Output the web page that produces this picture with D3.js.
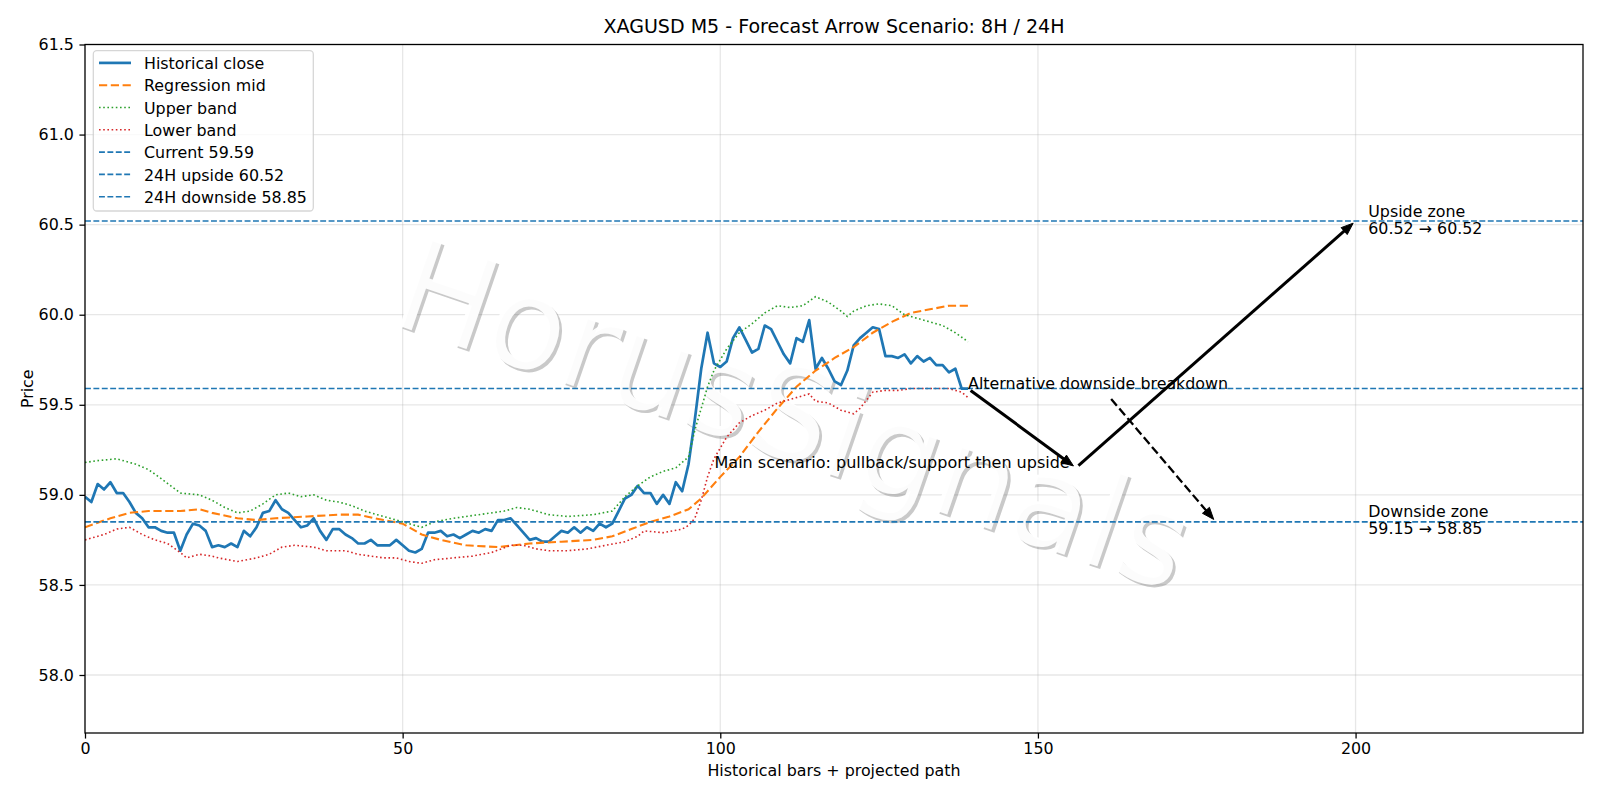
<!DOCTYPE html>
<html><head><meta charset="utf-8">
<script src="https://cdn.jsdelivr.net/npm/d3@7"></script>
<style>body{margin:0;background:#fff;} svg{display:block;font-family:"DejaVu Sans",sans-serif;}</style>
</head><body><svg id="c" width="1600" height="800"></svg>
<script>
// ---------- DATA ----------
const closeVals = [58.99,58.96,59.06,59.03,59.07,59.01,59.01,58.96,58.90,58.87,
58.82,58.82,58.80,58.79,58.79,58.69,58.78,58.84,58.83,58.80,
58.71,58.72,58.71,58.73,58.71,58.80,58.77,58.82,58.90,58.91,
58.97,58.92,58.90,58.86,58.82,58.83,58.87,58.80,58.75,58.81,
58.81,58.78,58.76,58.73,58.73,58.75,58.72,58.72,58.72,58.75,
58.72,58.69,58.68,58.70,58.79,58.79,58.80,58.77,58.78,58.76,
58.78,58.80,58.79,58.81,58.80,58.86,58.86,58.87,58.83,58.79,
58.75,58.76,58.74,58.74,58.77,58.80,58.79,58.82,58.79,58.82,
58.80,58.84,58.82,58.84,58.91,58.98,59.00,59.05,59.01,59.01,
58.95,59.00,58.95,59.07,59.02,59.17,59.42,59.70,59.90,59.73,
59.71,59.74,59.87,59.93,59.86,59.79,59.81,59.94,59.92,59.85,
59.78,59.73,59.87,59.85,59.97,59.70,59.76,59.70,59.63,59.61,
59.69,59.83,59.87,59.90,59.93,59.92,59.77,59.77,59.76,59.78,
59.73,59.77,59.74,59.76,59.72,59.72,59.68,59.70,59.59,59.59];

// regression mid, read at bar positions [bar, price]
const midPts = [[0,58.82],[4,58.87],[7,58.90],[10,58.91],[15,58.91],[18,58.92],[20,58.90],[24,58.87],[27,58.86],[30,58.87],[35,58.88],[40,58.89],[43,58.89],[47,58.86],[50,58.84],[53,58.78],[56,58.75],[60,58.72],[65,58.71],[70,58.73],[75,58.74],[80,58.75],[83,58.77],[86,58.81],[89,58.85],[92,58.88],[95,58.92],[97,58.98],[100,59.10],[103,59.21],[106,59.35],[109,59.48],[112,59.60],[115,59.69],[118,59.76],[121,59.82],[124,59.90],[127,59.96],[130,60.01],[133,60.03],[136,60.05],[139,60.05]];

const upperPts = [[0,59.18],[2,59.19],[5,59.20],[8,59.17],[10,59.14],[12,59.09],[15,59.01],[18,59.00],[20,58.97],[22,58.93],[24,58.90],[26,58.91],[28,58.95],[30,59.00],[32,59.01],[34,58.99],[36,59.00],[38,58.97],[40,58.96],[42,58.94],[44,58.91],[46,58.89],[48,58.87],[50,58.85],[53,58.82],[55,58.85],[58,58.87],[62,58.89],[66,58.91],[68,58.93],[70,58.92],[73,58.89],[76,58.88],[80,58.89],[83,58.91],[85,58.99],[87,59.05],[89,59.10],[91,59.13],[93,59.15],[95,59.21],[96,59.36],[97,59.48],[98,59.60],[99,59.69],[101,59.81],[103,59.90],[105,59.95],[107,60.01],[109,60.05],[111,60.04],[113,60.05],[115,60.10],[117,60.07],[119,60.02],[120,59.99],[121,60.02],[123,60.05],[125,60.06],[127,60.05],[129,60.00],[131,59.98],[133,59.96],[135,59.94],[137,59.90],[139,59.85]];

const lowerPts = [[0,58.75],[3,58.78],[5,58.81],[7,58.82],[9,58.78],[11,58.75],[13,58.73],[15,58.68],[16,58.65],[18,58.67],[20,58.66],[21,58.65],[24,58.63],[27,58.65],[29,58.67],[31,58.71],[33,58.72],[36,58.71],[38,58.69],[41,58.69],[43,58.67],[45,58.66],[47,58.65],[49,58.65],[51,58.63],[53,58.62],[55,58.64],[58,58.65],[61,58.66],[64,58.68],[67,58.72],[69,58.72],[71,58.70],[73,58.69],[76,58.69],[79,58.70],[82,58.72],[85,58.74],[87,58.77],[88,58.80],[91,58.79],[94,58.81],[95,58.83],[96,58.87],[97,58.97],[98,59.10],[99,59.20],[101,59.32],[103,59.40],[105,59.44],[107,59.47],[109,59.51],[111,59.53],[113,59.55],[114,59.56],[115,59.52],[117,59.51],[119,59.47],[121,59.45],[122,59.48],[124,59.57],[126,59.58],[128,59.58],[130,59.59],[132,59.59],[134,59.59],[136,59.59],[138,59.57],[139,59.54]];

const levelNames = ["Current 59.59","24H upside 60.52","24H downside 58.85"];
const levelVals = [59.59, 60.52, 58.85];

// arrows in data coords [bar, price]
const arrowFrom = [[139,59.59],[156,59.15],[161.2,59.546]];
const arrowTo   = [[156,59.15],[200,60.52],[178,58.85]];
const arrowDashed = [false,false,true];

const xTicks = [0,50,100,150,200];
const yTicks = [58.0,58.5,59.0,59.5,60.0,60.5,61.0,61.5];
const xDomain = [0,235.8];
const yDomain = [57.678,61.5];

const titleText = "XAGUSD M5 - Forecast Arrow Scenario: 8H / 24H";
const xLabel = "Historical bars + projected path";
const yLabel = "Price";
const legendLabels = ["Historical close","Regression mid","Upper band","Lower band"].concat(levelNames);
const watermark = "HorusSignals";
const mainText = "Main scenario: pullback/support then upside";
const altText = "Alternative downside breakdown";
const upZone = ["Upside zone","60.52 \u2192 60.52"];
const downZone = ["Downside zone","59.15 \u2192 58.85"];

// ---------- DRAW ----------
const W=1600,H=800, L=85, R=1583, T=44.5, B=733;
const FS=15.87;
const svg=d3.select("#c");
const x=d3.scaleLinear().domain(xDomain).range([L,R]);
const y=d3.scaleLinear().domain(yDomain).range([B,T]);
const BLUE="#1f77b4",ORANGE="#ff7f0e",GREEN="#2ca02c",RED="#d62728";

svg.append("rect").attr("width",W).attr("height",H).attr("fill","#fff");
svg.append("defs").append("clipPath").attr("id","clip").append("rect")
  .attr("x",L).attr("y",T).attr("width",R-L).attr("height",B-T);

// grid
const grid=svg.append("g");
grid.selectAll(".gx").data(xTicks).join("line")
  .attr("x1",d=>x(d)).attr("x2",d=>x(d)).attr("y1",T).attr("y2",B)
  .attr("stroke","#b0b0b0").attr("stroke-opacity",0.3).attr("stroke-width",1.27);
grid.selectAll(".gy").data(yTicks).join("line")
  .attr("y1",d=>y(d)).attr("y2",d=>y(d)).attr("x1",L).attr("x2",R)
  .attr("stroke","#b0b0b0").attr("stroke-opacity",0.3).attr("stroke-width",1.27);

// watermark
const wmAngle=19, wmX=388, wmY=322, wmSize=127, wmOff=2.8;
const wm=svg.append("g").attr("clip-path","url(#clip)");
wm.append("text").text(watermark)
  .attr("transform",`translate(${wmX+wmOff},${wmY+wmOff}) rotate(${wmAngle})`)
  .attr("font-size",wmSize).attr("fill","#4d4d4d").attr("fill-opacity",0.3);
wm.append("text").text(watermark)
  .attr("transform",`translate(${wmX},${wmY}) rotate(${wmAngle})`)
  .attr("font-size",wmSize).attr("fill","#ffffff").attr("fill-opacity",0.95);

const plot=svg.append("g").attr("clip-path","url(#clip)");
const lineIdx=d3.line().x((d,i)=>x(i)).y(d=>y(d));
const linePts=d3.line().x(d=>x(d[0])).y(d=>y(d[1]));

plot.append("path").attr("d",lineIdx(closeVals)).attr("fill","none")
  .attr("stroke",BLUE).attr("stroke-width",2.7).attr("stroke-linejoin","round").attr("stroke-linecap","butt");
plot.append("path").attr("d",linePts(midPts)).attr("fill","none")
  .attr("stroke",ORANGE).attr("stroke-width",2.1).attr("stroke-dasharray","8.2,3.6");
plot.append("path").attr("d",linePts(upperPts)).attr("fill","none")
  .attr("stroke",GREEN).attr("stroke-width",1.6).attr("stroke-dasharray","1.6,2.6");
plot.append("path").attr("d",linePts(lowerPts)).attr("fill","none")
  .attr("stroke",RED).attr("stroke-width",1.6).attr("stroke-dasharray","1.6,2.6");

plot.selectAll(".lv").data(levelVals).join("line")
  .attr("x1",L).attr("x2",R).attr("y1",d=>y(d)).attr("y2",d=>y(d))
  .attr("stroke",BLUE).attr("stroke-width",1.59).attr("stroke-dasharray","5.9,2.5");

// arrows
const arrG=svg.append("g");
arrowFrom.forEach((f,i)=>{
  const t=arrowTo[i];
  let x0=x(f[0]),y0=y(f[1]),x1=x(t[0]),y1=y(t[1]);
  const dx=x1-x0,dy=y1-y0,len=Math.hypot(dx,dy),ux=dx/len,uy=dy/len;
  const sh=3.2;
  x0+=ux*sh;y0+=uy*sh;x1-=ux*sh;y1-=uy*sh;
  const hl=12,hw=4.6;
  const bx=x1-ux*hl,by=y1-uy*hl;
  arrG.append("line").attr("x1",x0).attr("y1",y0).attr("x2",bx+ux*1).attr("y2",by+uy*1)
    .attr("stroke","#000").attr("stroke-width",arrowDashed[i]?2.3:3)
    .attr("stroke-dasharray",arrowDashed[i]?"8.8,3.8":null);
  arrG.append("path").attr("d",`M${x1},${y1}L${bx-uy*hw},${by+ux*hw}L${bx+uy*hw},${by-ux*hw}Z`)
    .attr("fill","#000").attr("stroke","#000").attr("stroke-width",1);
});

// annotation texts
const ann=svg.append("g").attr("font-size",FS).attr("fill","#000");
ann.append("text").attr("x",x(139)).attr("y",y(59.59)).text(altText);
ann.append("text").attr("x",x(155)).attr("y",y(59.15)).attr("text-anchor","end").attr("font-size",16).text(mainText);
ann.append("text").attr("x",x(202)).attr("y",y(60.52)-4.5).text(upZone[0]);
ann.append("text").attr("x",x(202)).attr("y",y(60.52)+12.5).text(upZone[1]);
ann.append("text").attr("x",x(202)).attr("y",y(58.85)-4.5).text(downZone[0]);
ann.append("text").attr("x",x(202)).attr("y",y(58.85)+12.5).text(downZone[1]);

// axes
const ax=svg.append("g").attr("font-size",FS);
ax.append("g").attr("transform",`translate(0,${B})`)
  .call(d3.axisBottom(x).tickValues(xTicks).tickFormat(d3.format("d")).tickSize(5.56).tickPadding(4.5))
  .call(g=>{g.select(".domain").remove();g.selectAll("line").attr("stroke-width",1.27);
    g.selectAll("text").attr("font-family","DejaVu Sans").attr("font-size",FS).attr("fill","#000");});
ax.append("g").attr("transform",`translate(${L},0)`)
  .call(d3.axisLeft(y).tickValues(yTicks).tickFormat(d3.format(".1f")).tickSize(5.56).tickPadding(5.56))
  .call(g=>{g.select(".domain").remove();g.selectAll("line").attr("stroke-width",1.27);
    g.selectAll("text").attr("font-family","DejaVu Sans").attr("font-size",FS).attr("fill","#000");});
svg.append("rect").attr("x",L).attr("y",T).attr("width",R-L).attr("height",B-T)
  .attr("fill","none").attr("stroke","#000").attr("stroke-width",1.27);

svg.append("text").attr("x",(L+R)/2).attr("y",32.5).attr("text-anchor","middle")
  .attr("font-size",19.05).text(titleText);
svg.append("text").attr("x",(L+R)/2).attr("y",776).attr("text-anchor","middle")
  .attr("font-size",FS).text(xLabel);
svg.append("text").attr("transform",`translate(32.5,${(T+B)/2}) rotate(-90)`).attr("text-anchor","middle")
  .attr("font-size",FS).text(yLabel);

// legend
const lg=svg.append("g");
lg.append("rect").attr("x",93.3).attr("y",50.7).attr("width",220).attr("height",160.3).attr("rx",3.5)
  .attr("fill","#fff").attr("fill-opacity",0.8).attr("stroke","#cccccc").attr("stroke-opacity",0.8).attr("stroke-width",1.27);
const legStyle=[
  {c:BLUE,w:2.7,d:null},{c:ORANGE,w:2.1,d:"8.2,3.6"},{c:GREEN,w:1.6,d:"1.6,2.6"},{c:RED,w:1.6,d:"1.6,2.6"},
  {c:BLUE,w:1.59,d:"5.9,2.5"},{c:BLUE,w:1.59,d:"5.9,2.5"},{c:BLUE,w:1.59,d:"5.9,2.5"}];
legendLabels.forEach((lab,i)=>{
  const cy=62.9+i*22.3;
  lg.append("line").attr("x1",99).attr("x2",131).attr("y1",cy).attr("y2",cy)
    .attr("stroke",legStyle[i].c).attr("stroke-width",legStyle[i].w).attr("stroke-dasharray",legStyle[i].d);
  lg.append("text").attr("x",144).attr("y",cy+6.2).attr("font-size",FS).text(lab);
});
</script></body></html>
